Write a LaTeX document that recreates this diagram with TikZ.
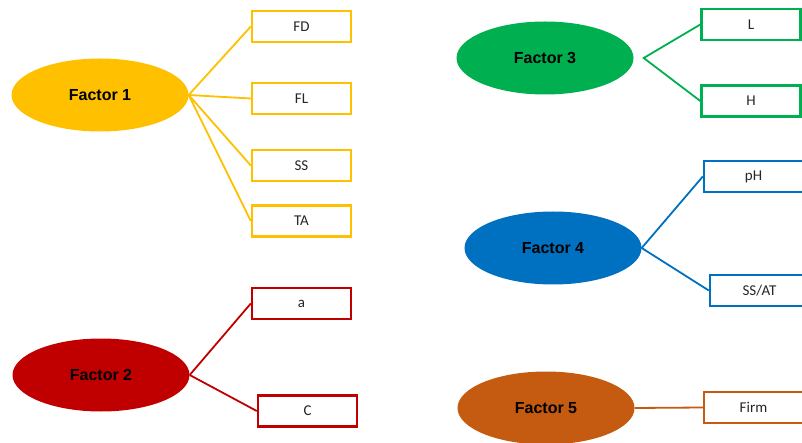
\documentclass[tikz,border=0pt]{standalone}
\usepackage{fontspec}
\setmainfont{Liberation Sans}
\newfontfamily\boxfont{Carlito}
\usetikzlibrary{shapes.geometric}
\definecolor{cyel}{HTML}{FFC000}
\definecolor{cred}{HTML}{C00000}
\definecolor{cgrn}{HTML}{00B050}
\definecolor{cblu}{HTML}{0070C0}
\definecolor{corg}{HTML}{C55A11}
\tikzset{
  factor/.style={ellipse, fill=#1, draw=none, minimum width=177pt, minimum height=73pt, inner sep=0pt,
    font=\fontsize{16}{18}\selectfont\bfseries, text=black},
  item/.style={rectangle, draw=#1, line width=2.4pt, fill=white, minimum width=99pt, minimum height=31pt, inner sep=0pt,
    font=\boxfont\fontsize{15}{17}\selectfont, text=black!85},
  link/.style={draw=#1, line width=1.8pt}
}
\begin{document}
\begin{tikzpicture}[x=1pt,y=-1pt]
\useasboundingbox (0,0) rectangle (802,443);
% Factor 1
\node[factor=cyel] (f1) at (100,95) {Factor 1};
\node[item=cyel] (fd) at (301.5,26.5) {FD};
\node[item=cyel] (fl) at (301.5,98.5) {FL};
\node[item=cyel] (ss) at (301.5,165.5) {SS};
\node[item=cyel] (ta) at (301.5,221) {TA};
\draw[link=cyel] (f1.east) -- (fd.west);
\draw[link=cyel] (f1.east) -- (fl.west);
\draw[link=cyel] (f1.east) -- (ss.west);
\draw[link=cyel] (f1.east) -- (ta.west);
% Factor 2
\node[factor=cred] (f2) at (101,375) {Factor 2};
\node[item=cred] (a) at (301.5,303.5) {a};
\node[item=cred] (c) at (307.5,411) {C};
\draw[link=cred] (f2.east) -- (a.west);
\draw[link=cred] (f2.east) -- (c.west);
% Factor 3
\node[factor=cgrn] (f3) at (545,58) {Factor 3};
\node[item=cgrn] (l) at (751,24.5) {L};
\node[item=cgrn] (h) at (751,101) {H};
\coordinate (f3j) at ([xshift=10pt]f3.east);
\draw[link=cgrn] (l.west) -- (f3j) -- (h.west);
% Factor 4
\node[factor=cblu] (f4) at (553,248) {Factor 4};
\node[item=cblu] (ph) at (753.5,176.5) {pH};
\node[item=cblu] (ssat) at (759.5,290.5) {SS/AT};
\draw[link=cblu] (f4.east) -- (ph.west);
\draw[link=cblu] (f4.east) -- (ssat.west);
% Factor 5
\node[factor=corg] (f5) at (546,408) {Factor 5};
\node[item=corg] (firm) at (753.5,407.5) {Firm};
\draw[link=corg] (f5.east) -- (firm.west);
\end{tikzpicture}
\end{document}
